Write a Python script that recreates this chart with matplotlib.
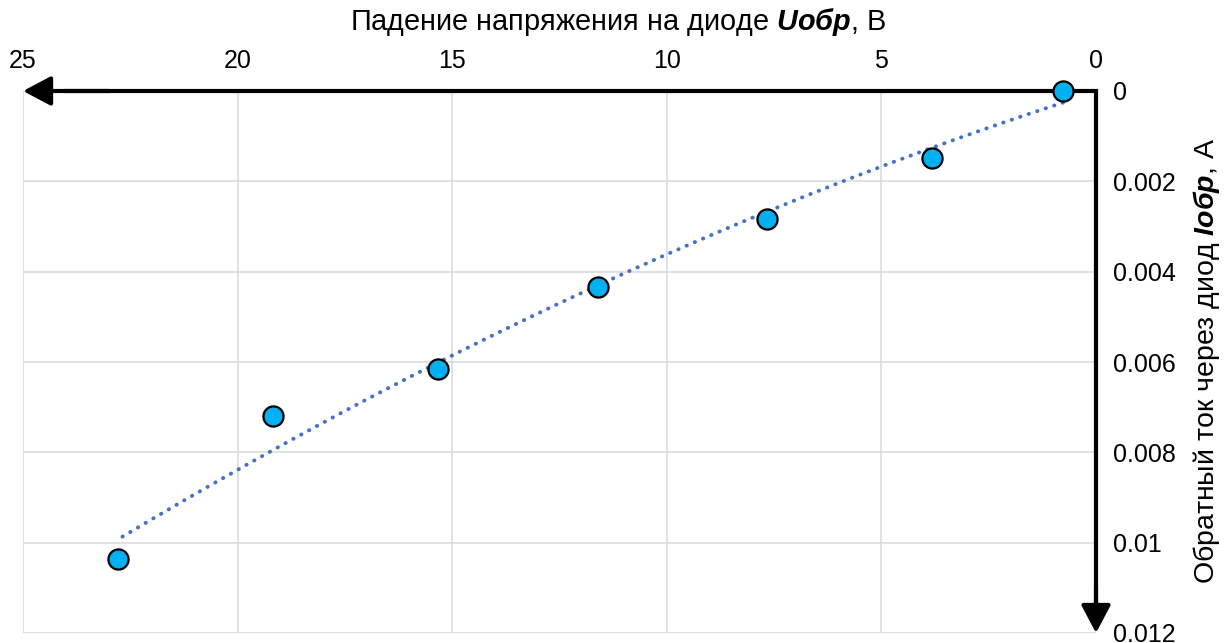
import numpy as np
import matplotlib.pyplot as plt
from matplotlib.ticker import FuncFormatter

plt.rcParams['font.family'] = ['Liberation Sans', 'DejaVu Sans']
plt.rcParams['mathtext.fontset'] = 'custom'
plt.rcParams['mathtext.bfit'] = 'Liberation Sans:italic:bold'
plt.rcParams['mathtext.rm'] = 'Liberation Sans'

# обратная ветвь ВАХ диода
u_obr = [0.77, 3.82, 7.67, 11.6, 15.33, 19.18, 22.79]
i_obr = [0.0, 0.00149, 0.00284, 0.00434, 0.00615, 0.00719, 0.01037]

x_ticks = [0, 5, 10, 15, 20, 25]
y_ticks = [0, 0.002, 0.004, 0.006, 0.008, 0.010, 0.012]

# полиномиальный тренд 2-й степени
coef = np.polyfit(u_obr, i_obr, 2)
trend_u = np.linspace(min(u_obr), max(u_obr), 200)
trend_i = np.polyval(coef, trend_u)

fig = plt.figure(figsize=(12.3, 6.43), dpi=100)
ax = fig.add_axes([23 / 1230, 10 / 643, 1073 / 1230, 542 / 643])

ax.set_xlim(25, 0)
ax.set_ylim(0.012, 0)
ax.set_xticks(x_ticks)
ax.set_yticks(y_ticks)
ax.yaxis.set_major_formatter(FuncFormatter(lambda v, p: '%g' % v))
ax.xaxis.tick_top()
ax.yaxis.tick_right()
ax.tick_params(axis='x', length=0, pad=13, labelsize=18)
ax.tick_params(axis='y', length=0, pad=12.5, labelsize=18)
for s in ax.spines.values():
    s.set_visible(False)
ax.grid(True, color='#d9d9d9', lw=1.1)
ax.set_axisbelow(True)

ax.plot(trend_u, trend_i, color='#4472c4', lw=2.8,
        linestyle=(0, (0.1, 2.2)), dash_capstyle='round', zorder=3)

# оси со стрелками
ax.plot([24, 0, 0], [0, 0, 0.0115], color='black', lw=3,
        solid_joinstyle='miter', solid_capstyle='projecting',
        clip_on=False, zorder=4)
arrow = dict(arrowstyle='-|>,head_length=0.85,head_width=0.45',
             color='black', lw=3, shrinkA=0, shrinkB=0, mutation_scale=20)
ax.annotate('', xy=(25, 0), xytext=(23, 0), arrowprops=arrow,
            annotation_clip=False, zorder=4)
ax.annotate('', xy=(0, 0.012), xytext=(0, 0.011), arrowprops=arrow,
            annotation_clip=False, zorder=4)

ax.plot(u_obr, i_obr, 'o', ms=14.5, mfc='#00b0f0', mec='black', mew=1.6,
        clip_on=False, zorder=5)

fig.text(618.5 / 1230, 1 - 22 / 643,
         r'Падение напряжения на диоде $\mathbfit{Uобр}$, В',
         ha='center', va='center', fontsize=20.8)
fig.text(1206 / 1230, 1 - 361 / 643,
         r'Обратный ток через диод $\mathbfit{Iобр}$, А',
         ha='center', va='center', rotation=90, fontsize=20.5)

fig.savefig('out.png', dpi=100)
